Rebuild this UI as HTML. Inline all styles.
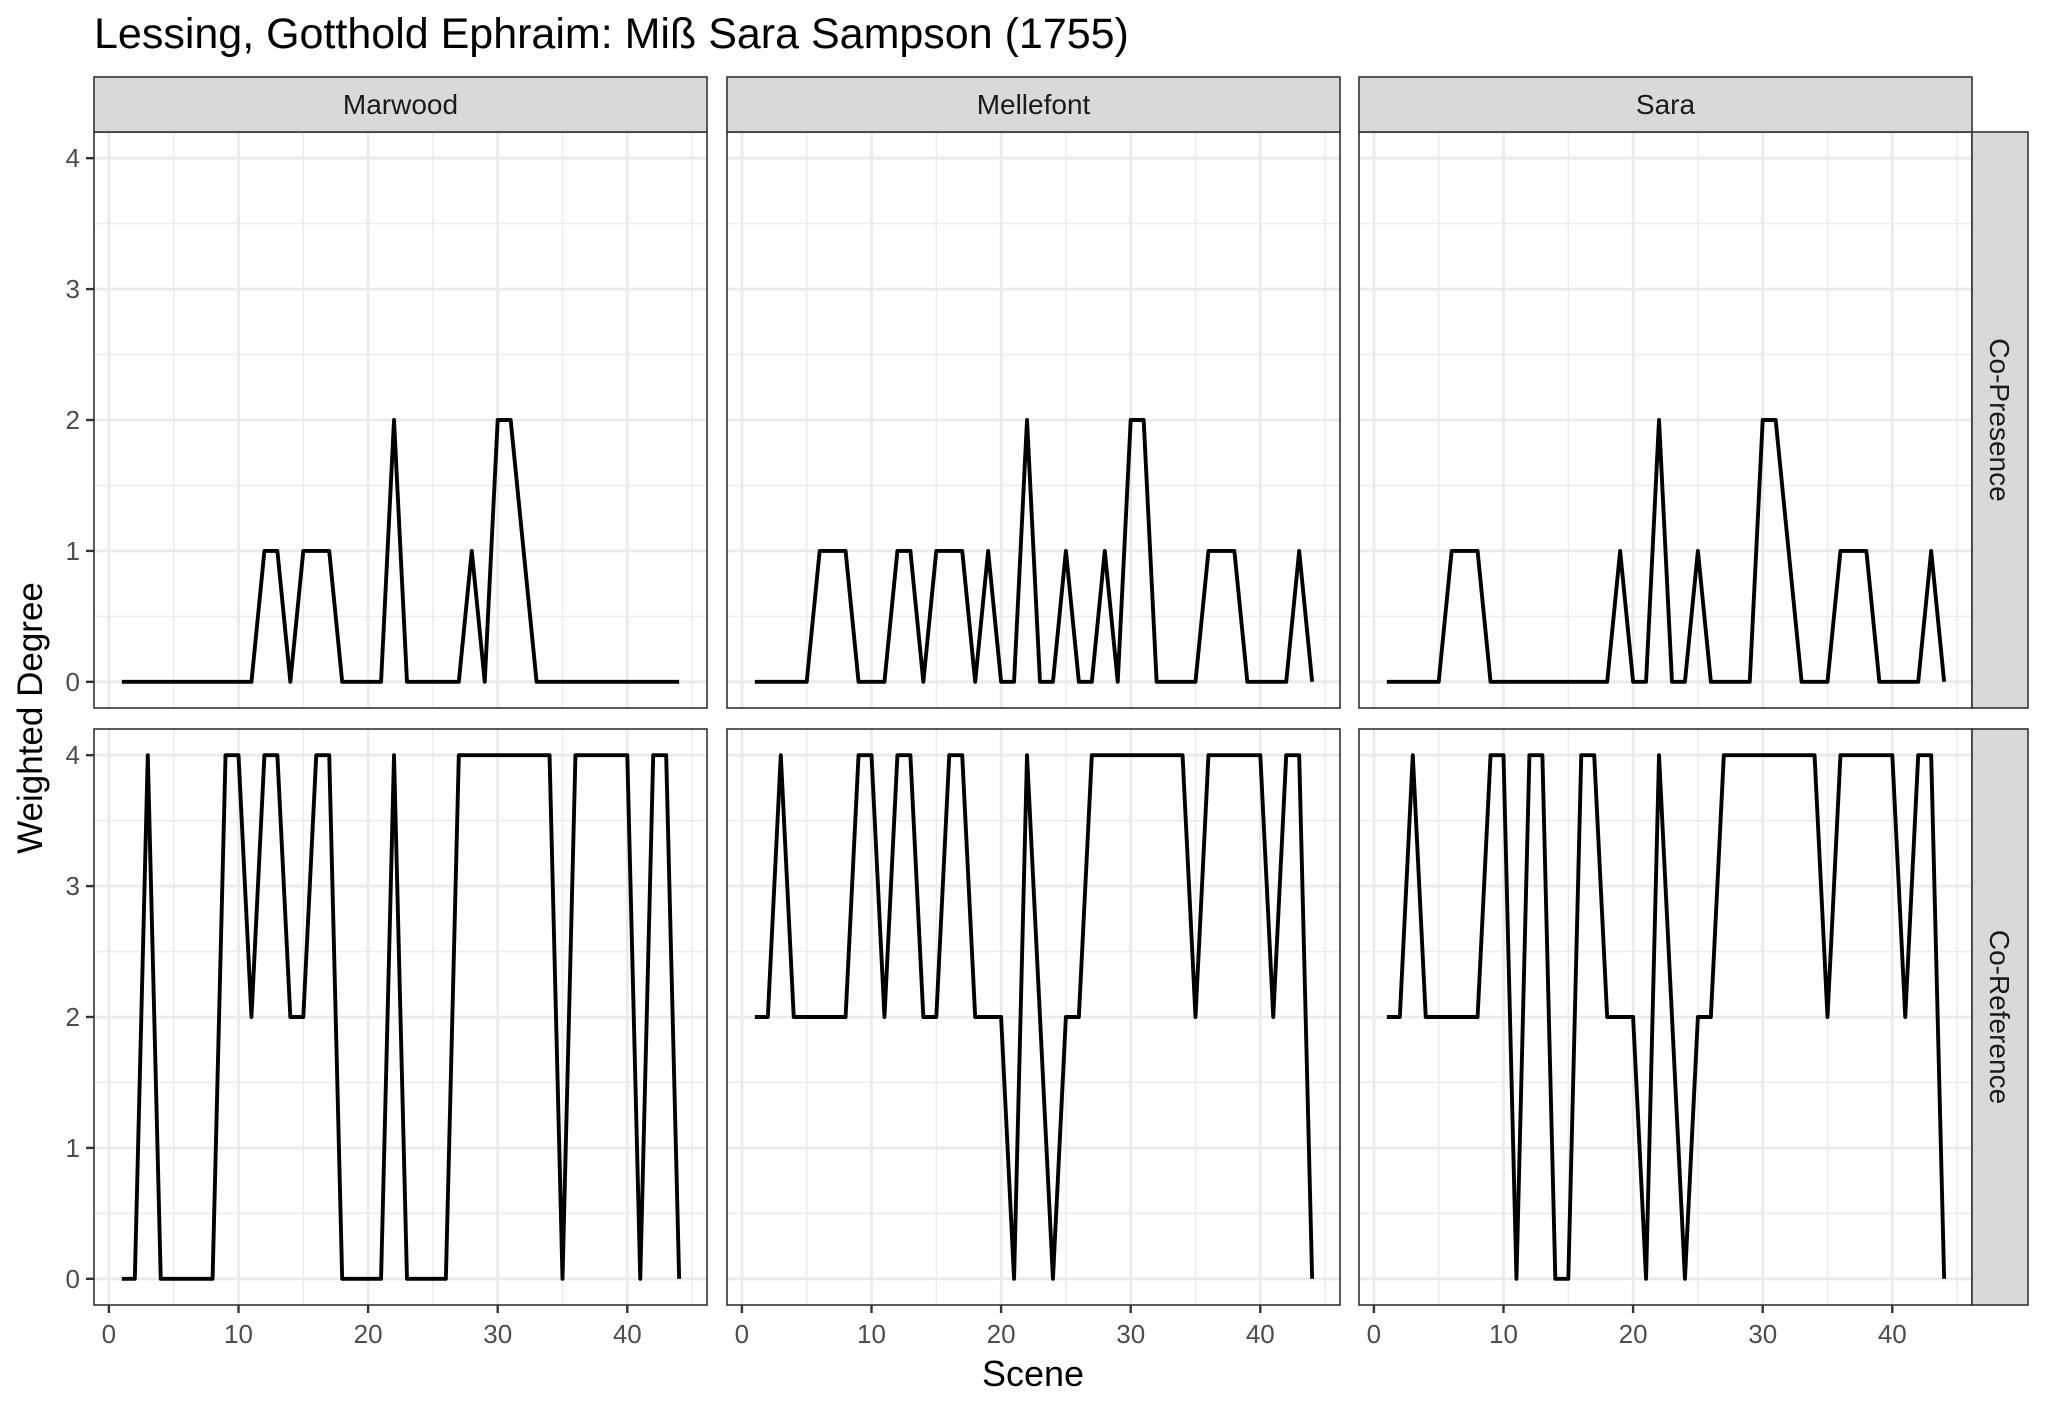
<!DOCTYPE html>
<html><head><meta charset="utf-8"><style>
html,body{margin:0;padding:0;background:#fff;}
svg{display:block;font-family:"Liberation Sans",Arial,sans-serif;}
</style></head><body>
<svg id="chart" width="2048" height="1410" viewBox="0 0 2048 1410" xmlns="http://www.w3.org/2000/svg">
<rect width="2048" height="1410" fill="#fff"/>
<text x="94" y="48" font-size="43" fill="#000">Lessing, Gotthold Ephraim: Miß Sara Sampson (1755)</text>
<text transform="translate(42,718) rotate(-90)" text-anchor="middle" font-size="35" fill="#000">Weighted Degree</text>
<text x="1033" y="1386" text-anchor="middle" font-size="36" fill="#000">Scene</text>
</svg>
<script>
const characters = ["Marwood", "Mellefont", "Sara"];
const measures = ["Co-Presence", "Co-Reference"];
const scenes = Array.from({length:44}, (_, i) => i + 1);
const xTicks = [0, 10, 20, 30, 40];
const yTicks = [0, 1, 2, 3, 4];
const marwoodPresence = [0,0,0,0,0,0,0,0,0,0,0,1,1,0,1,1,1,0,0,0,0,2,0,0,0,0,0,1,0,2,2,1,0,0,0,0,0,0,0,0,0,0,0,0];
const mellefontPresence = [0,0,0,0,0,1,1,1,0,0,0,1,1,0,1,1,1,0,1,0,0,2,0,0,1,0,0,1,0,2,2,0,0,0,0,1,1,1,0,0,0,0,1,0];
const saraPresence = [0,0,0,0,0,1,1,1,0,0,0,0,0,0,0,0,0,0,1,0,0,2,0,0,1,0,0,0,0,2,2,1,0,0,0,1,1,1,0,0,0,0,1,0];
const marwoodReference = [0,0,4,0,0,0,0,0,4,4,2,4,4,2,2,4,4,0,0,0,0,4,0,0,0,0,4,4,4,4,4,4,4,4,0,4,4,4,4,4,0,4,4,0];
const mellefontReference = [2,2,4,2,2,2,2,2,4,4,2,4,4,2,2,4,4,2,2,2,0,4,2,0,2,2,4,4,4,4,4,4,4,4,2,4,4,4,4,4,2,4,4,0];
const saraReference = [2,2,4,2,2,2,2,2,4,4,0,4,4,0,0,4,4,2,2,2,0,4,2,0,2,2,4,4,4,4,4,4,4,4,2,4,4,4,4,4,2,4,4,0];

const seriesGrid = [
  [marwoodPresence, mellefontPresence, saraPresence],
  [marwoodReference, mellefontReference, saraReference]
];

const NS = "http://www.w3.org/2000/svg";
const svg = document.getElementById("chart");
const colLeft = [94, 727, 1359];
const panelW = 613;
const rowTop = [132, 729];
const panelH = 576;
const xMin = -1.15, xMax = 46.15, yMin = -0.2, yMax = 4.2;

function mk(tag, attrs, parent) {
  const el = document.createElementNS(NS, tag);
  for (const k in attrs) el.setAttribute(k, attrs[k]);
  (parent || svg).appendChild(el);
  return el;
}
function xScale(c, v) { return colLeft[c] + (v - xMin) / (xMax - xMin) * panelW; }
function yScale(r, v) { return rowTop[r] + panelH - (v - yMin) / (yMax - yMin) * panelH; }

for (let r = 0; r < 2; r++) {
  for (let c = 0; c < 3; c++) {
    const g = mk("g", {});
    
    
    mk("rect", {x: colLeft[c], y: rowTop[r], width: panelW, height: panelH, fill: "#fff"}, g);
    for (let v = 5; v < xMax; v += 10) {
      const x = xScale(c, v);
      const l = mk("line", {x1: x, x2: x, y1: rowTop[r], y2: rowTop[r] + panelH, stroke: "#ebebeb", "stroke-width": 1.4}, g);
      
      
    }
    for (let v = 0.5; v < yMax; v += 1) {
      const y = yScale(r, v);
      const l = mk("line", {x1: colLeft[c], x2: colLeft[c] + panelW, y1: y, y2: y, stroke: "#ebebeb", "stroke-width": 1.4}, g);
      
      
    }
    xTicks.forEach(v => {
      const x = xScale(c, v);
      const l = mk("line", {x1: x, x2: x, y1: rowTop[r], y2: rowTop[r] + panelH, stroke: "#ebebeb", "stroke-width": 2.8}, g);
      
      
    });
    yTicks.forEach(v => {
      const y = yScale(r, v);
      const l = mk("line", {x1: colLeft[c], x2: colLeft[c] + panelW, y1: y, y2: y, stroke: "#ebebeb", "stroke-width": 2.8}, g);
      
      
    });
    const data = seriesGrid[r][c];
    const pts = scenes.map((s, i) => xScale(c, s).toFixed(2) + "," + yScale(r, data[i]).toFixed(2)).join(" ");
    const line = mk("polyline", {points: pts, fill: "none", stroke: "#000", "stroke-width": 3.9, "stroke-linejoin": "round"}, g);
    
    
    const border = mk("rect", {x: colLeft[c], y: rowTop[r], width: panelW, height: panelH, fill: "none", stroke: "#333", "stroke-width": 1.6}, g);
    
    
    if (c === 0) {
      yTicks.forEach(v => {
        const y = yScale(r, v);
        const t = mk("line", {x1: colLeft[0] - 8, x2: colLeft[0], y1: y, y2: y, stroke: "#333", "stroke-width": 2.4});
        
        
        const lab = mk("text", {x: colLeft[0] - 14, y: y + 9, "text-anchor": "end", "font-size": 26, fill: "#4d4d4d"});
        lab.textContent = v;
        
        
      });
    }
    if (r === 1) {
      xTicks.forEach(v => {
        const x = xScale(c, v);
        const t = mk("line", {x1: x, x2: x, y1: rowTop[1] + panelH, y2: rowTop[1] + panelH + 8, stroke: "#333", "stroke-width": 2.4});
        
        
        const lab = mk("text", {x: x, y: rowTop[1] + panelH + 38, "text-anchor": "middle", "font-size": 26, fill: "#4d4d4d"});
        lab.textContent = v;
        
        
      });
    }
  }
}
characters.forEach((name, c) => {
  const s = mk("rect", {x: colLeft[c], y: 77, width: panelW, height: 55, fill: "#d9d9d9", stroke: "#333", "stroke-width": 1.6});
  
  
  const t = mk("text", {x: colLeft[c] + panelW / 2, y: 114, "text-anchor": "middle", "font-size": 28, fill: "#1a1a1a"});
  t.textContent = name;
  
  
});
measures.forEach((name, r) => {
  const s = mk("rect", {x: 1972, y: rowTop[r], width: 56, height: panelH, fill: "#d9d9d9", stroke: "#333", "stroke-width": 1.6});
  
  
  const cx = 2000, cy = rowTop[r] + panelH / 2;
  const t = mk("text", {transform: "translate(" + cx + "," + cy + ") rotate(90)", x: 0, y: 10, "text-anchor": "middle", "font-size": 28, fill: "#1a1a1a"});
  t.textContent = name;
  
  
});
</script>
</body></html>
